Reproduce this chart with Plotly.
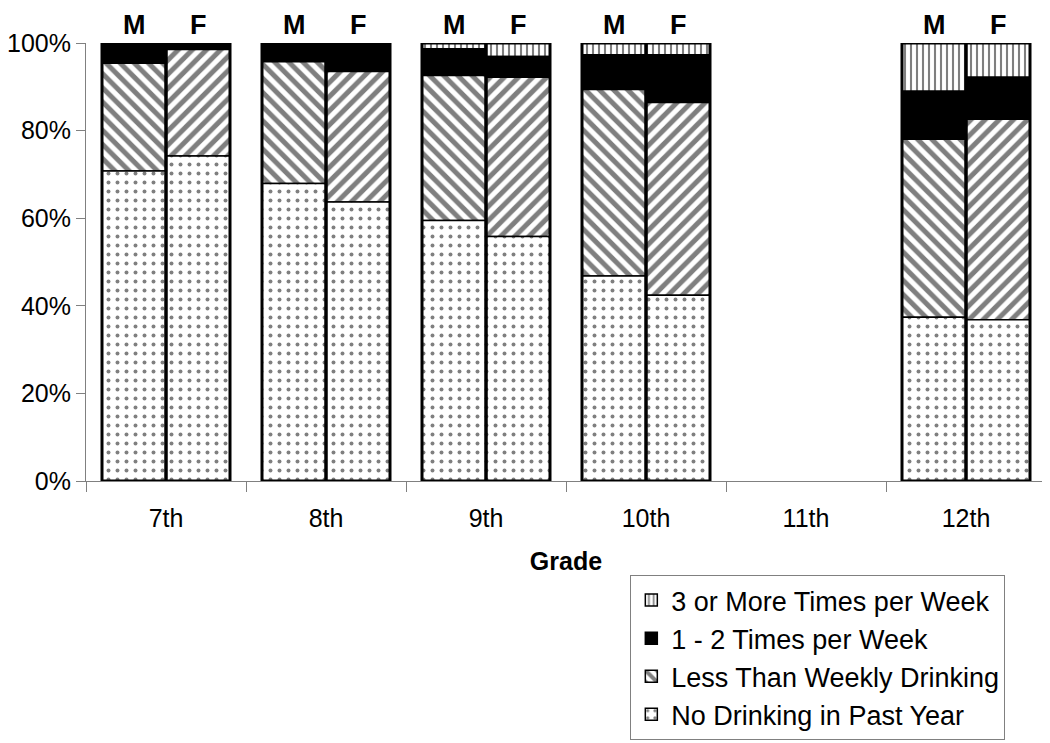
import numpy as np
import plotly.graph_objects as go

grades = ["7th", "8th", "9th", "10th", "11th", "12th"]
sexes = ["M", "F"]
y_ticks = [0, 20, 40, 60, 80, 100]

# Percent of students per grade (None = no data for 11th)
no_drink_m = [70.8, 67.9, 59.5, 46.8, None, 37.4]
no_drink_f = [74.2, 63.7, 55.8, 42.4, None, 36.8]
less_weekly_m = [24.6, 27.8, 33.1, 42.6, None, 40.6]
less_weekly_f = [24.3, 29.8, 36.4, 44.0, None, 45.8]
one_two_m = [4.6, 4.3, 6.1, 7.9, None, 11.0]
one_two_f = [1.5, 6.5, 4.7, 10.9, None, 9.6]
three_plus_m = [0.0, 0.0, 1.3, 2.7, None, 11.0]
three_plus_f = [0.0, 0.0, 3.1, 2.7, None, 7.8]

series = [
    ("No Drinking in Past Year", no_drink_m, no_drink_f),
    ("Less Than Weekly Drinking", less_weekly_m, less_weekly_f),
    ("1 - 2 Times per Week", one_two_m, one_two_f),
    ("3 or More Times per Week", three_plus_m, three_plus_f),
]

FONT = "Liberation Sans, Arial, sans-serif"
idx = np.arange(len(grades))
half = 0.2
x_pos = np.ravel(np.column_stack([idx - half, idx + half]))


def interleave(m, f):
    out = []
    for a, b in zip(m, f):
        out += [np.nan if a is None else a, np.nan if b is None else b]
    return np.array(out, dtype=float)


vals = [interleave(m, f) for _, m, f in series]
bases = np.cumsum([np.zeros_like(vals[0])] + vals[:-1], axis=0)
total = np.sum(vals, axis=0)

styles = [
    dict(color="white", pattern=dict(shape=".", fgcolor="black", bgcolor="white", size=9, solidity=0.15)),
    dict(color="white", pattern=dict(shape=["\\", "/"] * len(grades), fgcolor="black", bgcolor="white", size=10, solidity=0.5)),
    dict(color="black"),
    dict(color="white", pattern=dict(shape="|", fgcolor="black", bgcolor="white", size=6, solidity=0.35)),
]

fig = go.Figure()
for k in reversed(range(len(series))):
    name = series[k][0]
    fig.add_trace(go.Bar(
        x=x_pos, y=vals[k], base=bases[k], width=2 * half, name=name,
        marker=dict(line=dict(color="black", width=1.5), **styles[k]),
        hoverinfo="skip",
    ))

# outer outline of each stacked bar
fig.add_trace(go.Bar(
    x=x_pos, y=total, base=np.zeros_like(total), width=2 * half,
    marker=dict(color="rgba(0,0,0,0)", line=dict(color="black", width=3)),
    showlegend=False, hoverinfo="skip",
))

# M / F labels above bars
for i, g in enumerate(grades):
    if no_drink_m[i] is None:
        continue
    for s, xx in zip(sexes, [i - half, i + half]):
        fig.add_annotation(x=xx, y=100, text="<b>%s</b>" % s, showarrow=False,
                           yanchor="bottom", yshift=1,
                           font=dict(family=FONT, size=27, color="black"))

fig.update_layout(
    width=1042, height=735,
    barmode="overlay",
    plot_bgcolor="white", paper_bgcolor="white",
    margin=dict(l=78, r=4, t=35, b=262, autoexpand=False),
    font=dict(family=FONT, size=25, color="black"),
    legend=dict(x=0.567, y=0.2286, xref="paper", yref="container",
                xanchor="left", yanchor="top",
                bordercolor="#808080", borderwidth=1, bgcolor="white",
                font=dict(family=FONT, size=27, color="black")),
    showlegend=True,
)
fig.update_xaxes(
    range=[-0.5, len(grades) - 0.5],
    tickmode="array", tickvals=idx, ticktext=grades, ticks="", ticklabelstandoff=15,
    tickfont=dict(size=25),
    showline=True, linecolor="#808080", linewidth=1,
    showgrid=False, zeroline=False,
    minor=dict(tick0=0.5, dtick=1, ticks="outside", ticklen=10, tickcolor="#808080", showgrid=False),
    title=dict(text="<b>Grade</b>", font=dict(family=FONT, size=25), standoff=25),
    fixedrange=True,
)
fig.update_yaxes(
    range=[0, 100], tickmode="array", tickvals=y_ticks,
    ticktext=["%d%%" % v for v in y_ticks],
    ticks="outside", ticklen=9, tickcolor="#808080",
    showline=True, linecolor="#808080", linewidth=1,
    showgrid=False, zeroline=False, tickfont=dict(size=25),
    fixedrange=True,
)

fig.write_html("out.html")
